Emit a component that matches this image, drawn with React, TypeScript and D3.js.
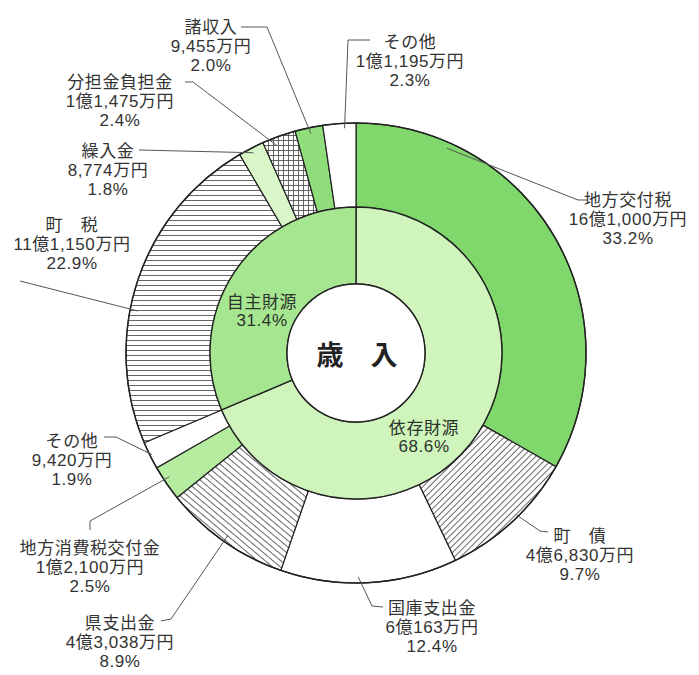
import React from 'react';
import * as d3 from 'd3';

// ---- data ----
const outerNames = ['地方交付税', '町　債', '国庫支出金', '県支出金', '地方消費税交付金', 'その他', '町　税', '繰入金', '分担金負担金', '諸収入', 'その他'];
const outerAmounts = [161000, 46830, 60163, 43038, 12100, 9420, 111150, 8774, 11475, 9455, 11195];
const outerAmountLabels = ['16億1,000万円', '4億6,830万円', '6億163万円', '4億3,038万円', '1億2,100万円', '9,420万円', '11億1,150万円', '8,774万円', '1億1,475万円', '9,455万円', '1億1,195万円'];
const outerPercents = ['33.2%', '9.7%', '12.4%', '8.9%', '2.5%', '1.9%', '22.9%', '1.8%', '2.4%', '2.0%', '2.3%'];
const outerFills = ['#80d86c', 'url(#diagUp)', '#ffffff', 'url(#diagDown)', '#b6eca0', '#ffffff', 'url(#horiz)', '#d9f7c9', 'url(#grid)', '#8fdd7b', '#ffffff'];

const innerNames = ['依存財源', '自主財源'];
const innerAmounts = [332551, 152049];
const innerPercents = ['68.6%', '31.4%'];
const innerFills = ['#cff5bd', '#a7e691'];

const centerTitle = '歳　入';

// ---- layout ----
const W = 699, H = 675;
const cx = 356, cy = 353;
const R = 230, rMid = 146, rHole = 69;

type LabelLayout = { x: number; y: number; pts: [number, number][]; t: number; r: number };
const labelLayout: LabelLayout[] = [
  { x: 628, y: 200, pts: [[587, 200], [578, 200]], t: 0.2, r: 224 },
  { x: 580, y: 536, pts: [[548, 532], [540, 531]], t: 0.45, r: 228 },
  { x: 432, y: 608, pts: [[383, 607], [372, 606]], t: 0.56, r: 224 },
  { x: 120, y: 623, pts: [[161, 621], [171, 619]], t: 0.5, r: 223 },
  { x: 90, y: 548, pts: [[90, 530], [90, 521]], t: 0.6, r: 224 },
  { x: 72, y: 441, pts: [[104, 437], [116, 437]], t: 0.5, r: 228 },
  { x: 72, y: 225, pts: [[20, 281], [20, 281]], t: 0.41, r: 222 },
  { x: 108, y: 151, pts: [[139, 150], [139, 150]], t: 0.5, r: 225 },
  { x: 120, y: 82, pts: [[185, 82], [193, 82]], t: 0.35, r: 222 },
  { x: 211, y: 27, pts: [[241, 27], [267, 27]], t: 0.53, r: 224 },
  { x: 410, y: 42, pts: [[370, 40], [348, 40]], t: 0.65, r: 225 },
];
const innerLabelPos = [
  { x: 424, y: 428 },
  { x: 262, y: 302 },
];
const lineH = 19;

export default function App() {
  const pie = d3.pie<number>().sort(null).value((d) => d).startAngle(0).endAngle(2 * Math.PI);
  const outerArcs = pie(outerAmounts);
  const innerArcs = pie(innerAmounts);
  const outerArc = d3.arc<d3.PieArcDatum<number>>().innerRadius(rMid).outerRadius(R);
  const innerArc = d3.arc<d3.PieArcDatum<number>>().innerRadius(rHole).outerRadius(rMid);

  const textStyle: React.CSSProperties = {
    fontFamily: '"Liberation Sans", "Noto Sans CJK JP", sans-serif',
    fontSize: 17,
    letterSpacing: 0.6,
    fill: '#333',
  };

  return (
    <svg width={W} height={H} style={{ position: 'absolute', left: 0, top: 0, background: '#fff' }}>
      <defs>
        <pattern id="horiz" patternUnits="userSpaceOnUse" width="8" height="5">
          <rect width="8" height="5" fill="#fff" />
          <line x1="0" y1="2.5" x2="8" y2="2.5" stroke="#666" strokeWidth="1" />
        </pattern>
        <pattern id="diagUp" patternUnits="userSpaceOnUse" width="4.5" height="4.5" patternTransform="rotate(-45)">
          <rect width="4.5" height="4.5" fill="#fff" />
          <line x1="0" y1="2.25" x2="4.5" y2="2.25" stroke="#666" strokeWidth="1" />
        </pattern>
        <pattern id="diagDown" patternUnits="userSpaceOnUse" width="5" height="5" patternTransform="rotate(40)">
          <rect width="5" height="5" fill="#fff" />
          <line x1="0" y1="2.5" x2="5" y2="2.5" stroke="#666" strokeWidth="1" />
        </pattern>
        <pattern id="grid" patternUnits="userSpaceOnUse" width="5" height="5">
          <rect width="5" height="5" fill="#fff" />
          <line x1="0" y1="2.5" x2="5" y2="2.5" stroke="#555" strokeWidth="0.9" />
          <line x1="2.5" y1="0" x2="2.5" y2="5" stroke="#555" strokeWidth="0.9" />
        </pattern>
      </defs>

      <g transform={`translate(${cx},${cy})`}>
        {outerArcs.map((a, i) => (
          <path key={'o' + i} d={outerArc(a) || ''} fill={outerFills[i]} stroke="#222" strokeWidth={1.2} />
        ))}
        {innerArcs.map((a, i) => (
          <path key={'i' + i} d={innerArc(a) || ''} fill={innerFills[i]} stroke="#222" strokeWidth={1.4} />
        ))}
        <circle r={rHole} fill="#fff" stroke="#222" strokeWidth={1.4} />
        <circle r={R} fill="none" stroke="#222" strokeWidth={1.4} />
      </g>

      {/* leaders */}
      {outerArcs.map((a, i) => {
        const L = labelLayout[i];
        const ang = a.startAngle + (a.endAngle - a.startAngle) * L.t;
        const ex = cx + Math.sin(ang) * L.r;
        const ey = cy - Math.cos(ang) * L.r;
        const pts = [...L.pts, [ex, ey]];
        return (
          <polyline key={'l' + i} points={pts.map((p) => p.join(',')).join(' ')} fill="none" stroke="#555" strokeWidth={1} />
        );
      })}

      {/* outer labels */}
      {outerNames.map((n, i) => {
        const L = labelLayout[i];
        return (
          <text key={'t' + i} style={textStyle} textAnchor="middle" dominantBaseline="central">
            <tspan x={L.x} y={L.y}>{n}</tspan>
            <tspan x={L.x} y={L.y + lineH}>{outerAmountLabels[i]}</tspan>
            <tspan x={L.x} y={L.y + 2 * lineH}>{outerPercents[i]}</tspan>
          </text>
        );
      })}

      {/* inner labels */}
      {innerNames.map((n, i) => (
        <text key={'in' + i} style={{ ...textStyle, fill: '#2b332b' }} textAnchor="middle" dominantBaseline="central">
          <tspan x={innerLabelPos[i].x} y={innerLabelPos[i].y}>{n}</tspan>
          <tspan x={innerLabelPos[i].x} y={innerLabelPos[i].y + 18}>{innerPercents[i]}</tspan>
        </text>
      ))}

      <text x={cx + 1} y={cy} textAnchor="middle" dominantBaseline="central"
        style={{ fontFamily: '"Noto Sans CJK JP", sans-serif', fontSize: 27, fontWeight: 700, fill: '#222' }}>
        {centerTitle}
      </text>
    </svg>
  );
}
